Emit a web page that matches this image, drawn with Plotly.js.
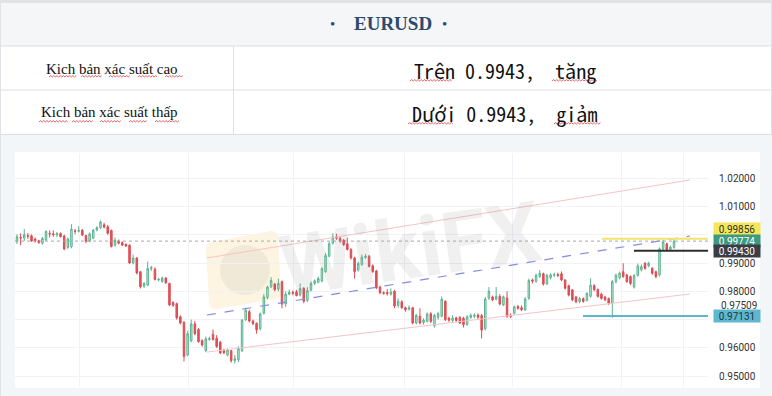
<!DOCTYPE html>
<html><head><meta charset="utf-8">
<script src="https://cdn.plot.ly/plotly-3.0.1.min.js"></script>
<style>html,body{margin:0;padding:0;background:#fff;}#chart{width:772px;height:396px;}</style>
</head><body><div id="chart"></div>
<script>
// ---------------- data ----------------
const openP = [
0.9975,0.9990,0.9988,0.9997,0.9996,0.9985,0.9979,0.9970,0.9982,1.0005,
1.0003,1.0000,1.0004,0.9995,0.9955,0.9958,1.0013,1.0012,1.0016,0.9997,
0.9977,0.9988,1.0016,1.0025,1.0035,1.0028,1.0015,0.9963,0.9978,0.9972,
0.9966,0.9963,0.9900,0.9918,0.9869,0.9818,0.9822,0.9880,0.9878,0.9840,
0.9835,0.9847,0.9828,0.9760,0.9756,0.9710,0.9690,0.9575,0.9625,0.9685,
0.9665,0.9626,0.9590,0.9630,0.9648,0.9634,0.9620,0.9590,0.9575,0.9590,
0.9555,0.9558,0.9590,0.9700,0.9728,0.9695,0.9687,0.9668,0.9722,0.9778,
0.9816,0.9825,0.9808,0.9834,0.9755,0.9790,0.9796,0.9798,0.9787,0.9810,
0.9768,0.9805,0.9828,0.9832,0.9836,0.9870,0.9924,0.9970,0.9992,0.9987,
0.9980,0.9968,0.9948,0.9918,0.9875,0.9895,0.9919,0.9924,0.9890,0.9872,
0.9815,0.9795,0.9796,0.9790,0.9800,0.9750,0.9763,0.9742,0.9737,0.9742,
0.9688,0.9712,0.9690,0.9694,0.9721,0.9678,0.9707,0.9712,0.9765,0.9705,
0.9697,0.9706,0.9708,0.9705,0.9683,0.9708,0.9712,0.9716,0.9714,0.9668,
0.9776,0.9780,0.9772,0.9782,0.9752,0.9776,0.9715,0.9722,0.9746,0.9742,
0.9735,0.9775,0.9840,0.9835,0.9852,0.9862,0.9826,0.9848,0.9857,0.9859,
0.9862,0.9840,0.9820,0.9805,0.9780,0.9764,0.9774,0.9768,0.9782,0.9820,
0.9806,0.9790,0.9780,0.9774,0.9758,0.9834,0.9848,0.9869,0.9858,0.9852,
0.9815,0.9856,0.9876,0.9899,0.9890,0.9881,0.9869,0.9858,0.9950,0.9968,
0.9948,0.9955];
const highP = [
1.0002,1.0005,1.0020,1.0006,1.0001,0.9990,0.9982,0.9992,1.0015,1.0015,
1.0015,1.0010,1.0008,1.0000,0.9990,1.0037,1.0020,1.0030,1.0020,1.0000,
1.0008,1.0020,1.0030,1.0050,1.0042,1.0035,1.0018,0.9990,0.9983,0.9976,
0.9969,0.9966,0.9930,0.9920,0.9872,0.9832,0.9905,0.9890,0.9885,0.9848,
0.9852,0.9850,0.9830,0.9765,0.9760,0.9715,0.9695,0.9660,0.9700,0.9695,
0.9670,0.9630,0.9640,0.9640,0.9665,0.9645,0.9625,0.9597,0.9598,0.9593,
0.9575,0.9605,0.9702,0.9742,0.9735,0.9700,0.9690,0.9725,0.9790,0.9820,
0.9850,0.9830,0.9845,0.9838,0.9800,0.9806,0.9803,0.9805,0.9828,0.9815,
0.9815,0.9835,0.9842,0.9852,0.9885,0.9935,0.9975,1.0005,1.0003,0.9992,
0.9985,0.9990,0.9952,0.9922,0.9905,0.9930,0.9932,0.9928,0.9895,0.9876,
0.9820,0.9800,0.9808,0.9810,0.9805,0.9775,0.9768,0.9746,0.9750,0.9745,
0.9720,0.9740,0.9705,0.9725,0.9726,0.9720,0.9728,0.9782,0.9768,0.9710,
0.9715,0.9710,0.9712,0.9710,0.9715,0.9722,0.9722,0.9722,0.9720,0.9780,
0.9815,0.9785,0.9815,0.9790,0.9785,0.9800,0.9722,0.9750,0.9752,0.9750,
0.9780,0.9845,0.9845,0.9862,0.9875,0.9866,0.9862,0.9864,0.9866,0.9866,
0.9870,0.9843,0.9823,0.9808,0.9784,0.9780,0.9778,0.9797,0.9846,0.9825,
0.9810,0.9795,0.9784,0.9778,0.9840,0.9862,0.9870,0.9899,0.9862,0.9856,
0.9860,0.9898,0.9895,0.9903,0.9905,0.9885,0.9873,0.9955,0.9982,0.9972,
0.9962,0.9988];
const lowP = [
0.9967,0.9963,0.9978,0.9985,0.9975,0.9972,0.9968,0.9965,0.9978,0.9990,
0.9993,0.9992,0.9990,0.9945,0.9950,0.9952,1.0002,1.0008,0.9995,0.9970,
0.9973,0.9985,1.0012,1.0020,1.0022,1.0000,0.9955,0.9958,0.9966,0.9960,
0.9957,0.9897,0.9895,0.9860,0.9810,0.9812,0.9818,0.9872,0.9838,0.9835,
0.9830,0.9826,0.9748,0.9745,0.9700,0.9683,0.9552,0.9570,0.9620,0.9645,
0.9618,0.9605,0.9585,0.9625,0.9625,0.9600,0.9578,0.9578,0.9570,0.9548,
0.9545,0.9550,0.9585,0.9695,0.9690,0.9680,0.9650,0.9662,0.9718,0.9772,
0.9812,0.9800,0.9800,0.9740,0.9745,0.9786,0.9786,0.9782,0.9782,0.9758,
0.9762,0.9800,0.9822,0.9828,0.9832,0.9865,0.9920,0.9965,0.9982,0.9972,
0.9960,0.9944,0.9912,0.9845,0.9870,0.9890,0.9915,0.9885,0.9865,0.9808,
0.9790,0.9788,0.9785,0.9785,0.9740,0.9742,0.9738,0.9728,0.9732,0.9683,
0.9683,0.9683,0.9682,0.9690,0.9688,0.9672,0.9700,0.9708,0.9695,0.9692,
0.9690,0.9692,0.9684,0.9672,0.9678,0.9703,0.9705,0.9703,0.9634,0.9662,
0.9770,0.9765,0.9768,0.9750,0.9748,0.9706,0.9705,0.9718,0.9735,0.9730,
0.9730,0.9770,0.9828,0.9830,0.9848,0.9820,0.9822,0.9842,0.9850,0.9850,
0.9836,0.9806,0.9782,0.9765,0.9758,0.9758,0.9760,0.9764,0.9778,0.9800,
0.9778,0.9770,0.9765,0.9752,0.9706,0.9828,0.9842,0.9848,0.9830,0.9822,
0.9810,0.9852,0.9870,0.9876,0.9885,0.9858,0.9846,0.9852,0.9945,0.9942,
0.9944,0.9950];
const closeP = [
0.9993,0.9988,1.0000,0.9995,0.9978,0.9978,0.9972,0.9987,1.0012,1.0003,
1.0000,1.0004,0.9993,0.9950,0.9985,1.0020,1.0012,1.0015,0.9999,0.9977,
1.0003,1.0016,1.0025,1.0045,1.0027,1.0005,0.9958,0.9981,0.9970,0.9963,
0.9960,0.9900,0.9918,0.9865,0.9816,0.9828,0.9881,0.9883,0.9842,0.9842,
0.9847,0.9830,0.9752,0.9751,0.9706,0.9688,0.9570,0.9650,0.9685,0.9650,
0.9622,0.9610,0.9632,0.9633,0.9630,0.9605,0.9582,0.9583,0.9592,0.9555,
0.9562,0.9598,0.9698,0.9733,0.9695,0.9686,0.9664,0.9720,0.9780,0.9815,
0.9838,0.9806,0.9828,0.9755,0.9790,0.9797,0.9793,0.9785,0.9810,0.9765,
0.9803,0.9828,0.9837,0.9845,0.9880,0.9926,0.9968,0.9992,0.9988,0.9977,
0.9965,0.9948,0.9918,0.9870,0.9898,0.9921,0.9924,0.9888,0.9870,0.9812,
0.9795,0.9793,0.9792,0.9797,0.9748,0.9765,0.9742,0.9735,0.9742,0.9688,
0.9715,0.9688,0.9698,0.9720,0.9694,0.9715,0.9721,0.9772,0.9700,0.9698,
0.9705,0.9697,0.9688,0.9682,0.9710,0.9715,0.9716,0.9708,0.9663,0.9773,
0.9800,0.9770,0.9782,0.9755,0.9780,0.9712,0.9712,0.9745,0.9740,0.9735,
0.9773,0.9838,0.9836,0.9857,0.9864,0.9826,0.9856,0.9858,0.9859,0.9856,
0.9840,0.9811,0.9787,0.9770,0.9763,0.9774,0.9764,0.9792,0.9822,0.9806,
0.9782,0.9775,0.9770,0.9758,0.9834,0.9857,0.9864,0.9852,0.9834,0.9828,
0.9856,0.9890,0.9887,0.9881,0.9899,0.9864,0.9852,0.9950,0.9975,0.9947,
0.9956,0.9977];

const levelValues = [0.99856, 0.99774, 0.99430, 0.97131];
const levelLabels = ['0.99856', '0.99774', '0.99430', '0.97131'];
const yTickVals = [0.95, 0.96, 0.97, 0.98, 0.99, 1.00, 1.01, 1.02];
const yTickText = ['0.95000', '0.96000', '', '0.98000', '0.99000', '', '1.01000', '1.02000'];
const extraTickVal = 0.97509;
const extraTickText = '0.97509';

const channelX = [52.3, 185.4];
const channelUpper = [0.99177, 1.01933];
const channelMid = [0.97163, 0.99954];
const channelLower = [0.95855, 0.97905];

const tableTitle = 'EURUSD';
const rowLabels = ['Kich bản xác suất cao', 'Kich bản xác suất thấp'];
const rowValues = ['Trên 0.9943,\u00a0 tăng', 'Dưới 0.9943,\u00a0 giảm'];

// ---------------- layout helpers ----------------
const W = 772, H = 396;
const px = x => x / W;
const py = y => 1 - y / H;
const SP = 3.63, X0 = 17;
const ix = p => (p - X0) / SP;
const pv = p => 1 - (p - 234.7) / 2830;

const idx = closeP.map((_, i) => i);
const xRange = [ix(15), ix(708)];
const yRange = [pv(387), pv(153)];
const vGrid = [79, 188, 293, 404, 512, 621, 683].map(ix);

const shapes = [];
function rect(x0, y0, x1, y1, fill, layer) {
  shapes.push({type: 'rect', xref: 'paper', yref: 'paper', x0: px(x0), x1: px(x1), y0: py(y1), y1: py(y0),
    fillcolor: fill, line: {width: 0}, layer: layer || 'below'});
}
function hline(x0, x1, y, color, w) {
  shapes.push({type: 'line', xref: 'paper', yref: 'paper', x0: px(x0), x1: px(x1), y0: py(y), y1: py(y),
    line: {color: color, width: w || 1}, layer: 'below'});
}
function vline(x, y0, y1, color, w) {
  shapes.push({type: 'line', xref: 'paper', yref: 'paper', x0: px(x), x1: px(x), y0: py(y0), y1: py(y1),
    line: {color: color, width: w || 1}, layer: 'below'});
}
function wave(x0, x1, y) {
  let d = 'M' + px(x0) + ',' + py(y);
  let up = true;
  for (let x = x0 + 1.6; x <= x1; x += 1.6) {
    d += ' L' + px(x) + ',' + py(up ? y - 1.4 : y);
    up = !up;
  }
  shapes.push({type: 'path', xref: 'paper', yref: 'paper', path: d, line: {color: '#e0393e', width: 0.8}, layer: 'above'});
}

// table
rect(0, 0, 772, 3, '#e2e3e5');
rect(0, 3, 772, 46, '#f5f6f8');
rect(0, 46, 772, 134, '#ffffff');
rect(0, 134, 772, 396, '#f3f6f9');
rect(15, 152, 760, 388, '#ffffff');
hline(0, 772, 46, '#dcdfe4');
hline(0, 772, 90, '#dcdfe4');
hline(0, 772, 134.5, '#dcdfe4');
vline(233.5, 46, 134, '#dcdfe4');
vline(0.5, 3, 396, '#dfe3e8');
vline(771.5, 3, 134, '#dfe3e8');

// watermark logo
shapes.push({type: 'path', xref: 'paper', yref: 'paper', layer: 'below',
  path: 'M' + px(212) + ',' + py(242) + ' L' + px(270) + ',' + py(231) + ' Q' + px(277) + ',' + py(230) + ' ' + px(278) + ',' + py(237) +
        ' L' + px(281) + ',' + py(292) + ' Q' + px(281) + ',' + py(298) + ' ' + px(275) + ',' + py(299) +
        ' L' + px(217) + ',' + py(309) + ' Q' + px(210) + ',' + py(310) + ' ' + px(209) + ',' + py(303) +
        ' L' + px(206) + ',' + py(249) + ' Q' + px(206) + ',' + py(243) + ' ' + px(212) + ',' + py(242) + ' Z',
  fillcolor: 'rgba(250,228,175,0.38)', line: {width: 0}});
shapes.push({type: 'circle', xref: 'paper', yref: 'paper', layer: 'below',
  x0: px(220), x1: px(270), y0: py(295), y1: py(245), fillcolor: 'rgba(120,120,120,0.09)', line: {width: 0}});

// level lines
const levelStart = [ix(602), xRange[0], ix(634), ix(583)];
const levelColor = ['#f3e36b', '#a8a8a8', '#2e2e2e', '#5bb8cc'];
const levelDash = ['solid', 'dot', 'solid', 'solid'];
const levelWidth = [2, 1, 2, 2];
levelValues.forEach((v, k) => {
  shapes.push({type: 'line', xref: 'x', yref: 'y', x0: levelStart[k], x1: xRange[1], y0: v, y1: v,
    line: {color: levelColor[k], width: levelWidth[k], dash: levelDash[k]}, layer: 'above'});
});

// wavy underlines
[[49, 77], [81, 102], [109, 130], [138, 158], [165, 183]].forEach(s => wave(s[0], s[1], 77));
[[39, 68], [72, 94], [100, 121], [129, 148], [155, 179]].forEach(s => wave(s[0], s[1], 122));
[[410, 453], [552, 598]].forEach(s => wave(s[0], s[1], 81));
[[408, 454], [554, 601]].forEach(s => wave(s[0], s[1], 124));

// annotations
const ann = [];
function txt(x, y, text, font, opts) {
  ann.push(Object.assign({xref: 'paper', yref: 'paper', x: px(x), y: py(y), text: text, showarrow: false,
    font: font, xanchor: 'center', yanchor: 'middle'}, opts || {}));
}
const blue = '#2c4a6e';
txt(332, 24, '•', {family: 'Liberation Serif', size: 15, color: blue});
txt(393, 24, tableTitle, {family: 'Liberation Serif', size: 19, weight: 700, color: blue});
txt(444, 24, '•', {family: 'Liberation Serif', size: 15, color: blue});
txt(112, 69, rowLabels[0], {family: 'Liberation Serif', size: 15, color: '#111'});
txt(109, 112, rowLabels[1], {family: 'Liberation Serif', size: 15, color: '#111'});
txt(505, 70, rowValues[0], {family: 'Noto Sans Mono CJK SC, Liberation Mono, monospace', size: 20, color: '#111'});
txt(505, 113, rowValues[1], {family: 'Noto Sans Mono CJK SC, Liberation Mono, monospace', size: 20, color: '#111'});

txt(410, 250, 'WikiFX', {family: 'Roboto', size: 84, weight: 700, color: 'rgba(150,150,150,0.14)'}, {textangle: -8});

const boxBg = ['#f5e55a', '#3c9a7e', '#3a3d46', '#5cb7cf'];
const boxFg = ['#333333', '#ffffff', '#ffffff', '#1f3540'];
const boxShift = [9.6, 0, -0.6, 0];
levelValues.forEach((v, k) => {
  ann.push({xref: 'paper', yref: 'y', x: px(713), y: v, yshift: boxShift[k], xanchor: 'left', yanchor: 'middle',
    text: levelLabels[k], showarrow: false, bgcolor: boxBg[k], font: {family: 'Roboto', size: 10, color: boxFg[k]},
    width: 44, height: 10, borderpad: 1, align: 'center'});
});
ann.push({xref: 'paper', yref: 'y', x: px(719), y: extraTickVal, xanchor: 'left', yanchor: 'middle',
  text: extraTickText, showarrow: false, font: {family: 'Roboto', size: 10, color: '#333'}});

// traces
const traces = [
  {type: 'scatter', mode: 'lines', x: channelX, y: channelUpper, line: {color: '#f5c4c6', width: 1}, hoverinfo: 'skip'},
  {type: 'scatter', mode: 'lines', x: channelX, y: channelLower, line: {color: '#f5c4c6', width: 1}, hoverinfo: 'skip'},
  {type: 'scatter', mode: 'lines', x: channelX, y: channelMid, line: {color: '#848be6', width: 1.2, dash: 'dash'}, hoverinfo: 'skip'},
  {type: 'candlestick', x: idx, open: openP, high: highP, low: lowP, close: closeP,
    increasing: {line: {color: '#5bb38f', width: 1}, fillcolor: '#c6e9da'},
    decreasing: {line: {color: '#dd4b52', width: 1}, fillcolor: '#e0555b'},
    whiskerwidth: 0, hoverinfo: 'skip'}
];

const layout = {
  width: W, height: H, margin: {l: 0, r: 0, t: 0, b: 0},
  paper_bgcolor: '#ffffff', plot_bgcolor: 'rgba(0,0,0,0)',
  showlegend: false, boxgap: 0.4,
  font: {family: 'Roboto', size: 10, color: '#333'},
  xaxis: {domain: [px(15), px(708)], range: xRange, tickvals: vGrid, showticklabels: false, ticks: '',
    showgrid: true, gridcolor: '#eff2f7', zeroline: false, showline: false, rangeslider: {visible: false}, fixedrange: true},
  yaxis: {domain: [py(387), py(153)], range: yRange, side: 'right', tickvals: yTickVals, ticktext: yTickText,
    ticks: '', ticklabelstandoff: 10, tickfont: {family: 'Roboto', size: 10, color: '#333'},
    showgrid: true, gridcolor: '#eff2f7', zeroline: false, showline: false, fixedrange: true},
  shapes: shapes, annotations: ann
};
Plotly.newPlot('chart', traces, layout, {staticPlot: true, displayModeBar: false});
</script></body></html>
